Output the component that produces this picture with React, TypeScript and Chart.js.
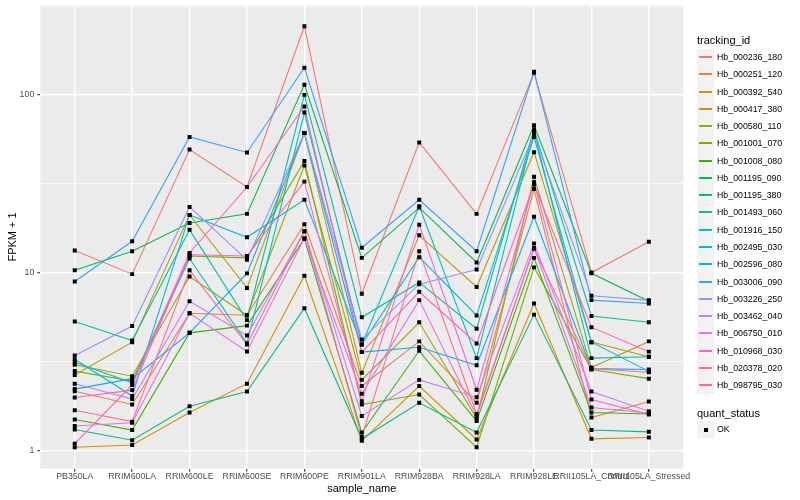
import React, { useEffect, useRef } from "react";
import { Chart, registerables } from "chart.js";

Chart.register(...registerables);

const FONT = "'Liberation Sans', Arial, Helvetica, sans-serif";

const categories = [
  "PB350LA", "RRIM600LA", "RRIM600LE", "RRIM600SE", "RRIM600PE", "RRIM901LA",
  "RRIM928BA", "RRIM928LA", "RRIM928LE", "RRII105LA_Control", "RRII105LA_Stressed",
];

const trackingIds = [
  "Hb_000236_180", "Hb_000251_120", "Hb_000392_540", "Hb_000417_380", "Hb_000580_110",
  "Hb_001001_070", "Hb_001008_080", "Hb_001195_090", "Hb_001195_380", "Hb_001493_060",
  "Hb_001916_150", "Hb_002495_030", "Hb_002596_080", "Hb_003006_090", "Hb_003226_250",
  "Hb_003462_040", "Hb_006750_010", "Hb_010968_030", "Hb_020378_020", "Hb_098795_030",
];

const colors = [
  "#F8766D", "#EA8331", "#D89000", "#C09B00", "#A3A500", "#7CAE00", "#39B600", "#00BB4E",
  "#00BF7D", "#00C1A3", "#00BFC4", "#00BAE0", "#00B0F6", "#35A2FF", "#9590FF", "#C77CFF",
  "#E76BF3", "#FA62DB", "#FF62BC", "#FF6C91",
];

// FPKM + 1 per tracking id, in category order
const s000236_180 = [13.3, 9.8, 49.3, 30.3, 243, 7.6, 54, 21.4, 133, 10, 14.9];
const s000251_120 = [2.15, 1.81, 5.9, 5.75, 18.7, 2.3, 4.1, 1.85, 29.5, 1.53, 1.88];
const s000392_540 = [1.04, 1.07, 1.63, 2.37, 9.6, 1.13, 2.3, 1.15, 6.7, 1.16, 1.18];
const s000417_380 = [2.65, 4.06, 21.1, 8.2, 61, 2.73, 16.2, 8.3, 47.6, 4.06, 3.36];
const s000580_110 = [3.03, 2.61, 9.5, 5.75, 40, 2.49, 5.25, 1.51, 34.6, 2.92, 4.1];
const s001001_070 = [2.79, 2.45, 12.4, 12.1, 42.5, 1.81, 2.06, 1.04, 10.7, 2.85, 2.53];
const s001008_080 = [1.49, 1.3, 4.58, 5.03, 15.5, 1.26, 3.63, 1.46, 12.1, 1.63, 1.6];
const s001195_090 = [10.3, 13.2, 19, 21.4, 114, 12.1, 23.2, 11.4, 67.5, 9.9, 6.9];
const s001195_380 = [1.31, 1.14, 1.77, 2.14, 6.3, 1.16, 1.85, 1.26, 5.8, 1.3, 1.27];
const s001493_060 = [5.3, 4.15, 17.4, 5.4, 100, 5.6, 8.8, 4.83, 64, 5.7, 5.25];
const s001916_150 = [3.13, 2.4, 12.0, 4.0, 79.5, 3.94, 23.6, 3.3, 62, 3.3, 3.36];
const s002495_030 = [3.25, 2.02, 21.1, 15.8, 25.7, 3.94, 12.2, 5.74, 58, 4.06, 2.78];
const s002596_080 = [2.21, 2.53, 4.58, 9.9, 61, 3.57, 3.8, 3.01, 20.6, 2.88, 2.85];
const s003006_090 = [8.9, 15, 58, 47.4, 142, 13.8, 25.7, 13.2, 135, 7.0, 6.7];
const s003226_250 = [3.42, 5.0, 23.4, 11.8, 61, 4.2, 8.6, 10.4, 60, 7.4, 7.0];
const s003462_040 = [2.37, 1.94, 6.9, 4.42, 17.1, 1.56, 2.49, 1.99, 14.6, 2.14, 1.66];
const s006750_010 = [1.37, 1.43, 5.9, 3.6, 15.6, 2.08, 7.0, 1.56, 13.8, 1.74, 1.62];
const s010968_030 = [1.98, 2.18, 12.6, 12.4, 32.5, 1.89, 18.6, 2.19, 32.2, 1.93, 1.59];
const s020378_020 = [1.09, 2.33, 12.9, 30.3, 86, 3.57, 7.8, 3.99, 31.3, 4.93, 3.59];
const s098795_030 = [1.68, 1.45, 10.3, 3.94, 17.1, 1.19, 13.2, 1.6, 13.6, 2.88, 2.75];

const seriesValues = [
  s000236_180, s000251_120, s000392_540, s000417_380, s000580_110,
  s001001_070, s001008_080, s001195_090, s001195_380, s001493_060,
  s001916_150, s002495_030, s002596_080, s003006_090, s003226_250,
  s003462_040, s006750_010, s010968_030, s020378_020, s098795_030,
];

const yMajor = [1, 10, 100];
const yMinor = [Math.sqrt(10), Math.sqrt(1000), Math.sqrt(100000)];
const yMin = Math.pow(10, -0.1036);
const yMax = Math.pow(10, 2.5046);

const panelBg = {
  id: "panelBg",
  beforeDraw(chart: any) {
    const { ctx, chartArea } = chart;
    ctx.save();
    ctx.fillStyle = "#EBEBEB";
    ctx.fillRect(chartArea.left, chartArea.top, chartArea.right - chartArea.left, chartArea.bottom - chartArea.top);
    ctx.restore();
  },
};

const isMajor = (v: number) => yMajor.some((m) => Math.abs(m - v) < 1e-9);

function App() {
  const ref = useRef<HTMLCanvasElement | null>(null);

  useEffect(() => {
    if (!ref.current) return;
    const lineSets = seriesValues.map((vals, i) => ({
      label: trackingIds[i],
      data: vals.map((v, ci) => ({ x: ci, y: v })),
      borderColor: colors[i],
      backgroundColor: colors[i],
      borderWidth: 1.1,
      pointRadius: 0,
      tension: 0,
      order: 100 - i,
    }));
    const pointSet = {
      label: "OK",
      data: seriesValues.flatMap((vals) => vals.map((v, ci) => ({ x: ci, y: v }))),
      showLine: false,
      pointStyle: "rect",
      pointRadius: 2.8,
      pointBorderWidth: 0,
      pointBackgroundColor: "#000000",
      pointBorderColor: "#000000",
      order: 0,
    };
    const chart = new Chart(ref.current, {
      type: "line",
      data: { datasets: [...lineSets, pointSet] as any },
      plugins: [panelBg],
      options: {
        animation: false,
        responsive: false,
        events: [],
        layout: { padding: { top: 5.2, right: 116.7, left: 0, bottom: 0 } },
        plugins: { legend: { display: false }, tooltip: { enabled: false } },
        scales: {
          x: {
            type: "linear",
            min: -0.6,
            max: 10.6,
            afterBuildTicks: (s: any) => {
              s.ticks = categories.map((_, i) => ({ value: i }));
            },
            afterFit: (s: any) => {
              s.height = 31.3;
              s.paddingLeft = 0;
              s.paddingRight = 0;
              s.paddingTop = 0;
              s.paddingBottom = 0;
            },
            border: { display: false },
            grid: { color: "#FFFFFF", lineWidth: 1.4, tickColor: "#333333", tickLength: 3, tickWidth: 1.1 },
            ticks: {
              autoSkip: false,
              maxRotation: 0,
              minRotation: 0,
              padding: 0,
              color: "#4D4D4D",
              font: { family: FONT, size: 8.8, lineHeight: 1 },
              callback: (v: any) => categories[Math.round(Number(v))] ?? "",
            },
            title: {
              display: true,
              text: "sample_name",
              color: "#000000",
              font: { family: FONT, size: 11 },
              padding: { top: 0, bottom: 4.9 },
            },
          },
          y: {
            type: "logarithmic",
            min: yMin,
            max: yMax,
            afterBuildTicks: (s: any) => {
              s.ticks = [...yMajor, ...yMinor].sort((a, b) => a - b).map((v) => ({ value: v, major: isMajor(v) }));
            },
            afterFit: (s: any) => {
              s.width = 40.3;
              s.paddingLeft = 0;
              s.paddingRight = 0;
              s.paddingTop = 0;
              s.paddingBottom = 0;
            },
            border: { display: false },
            grid: {
              color: "#FFFFFF",
              lineWidth: (c: any) => (isMajor(c.tick.value) ? 1.4 : 0.7),
              tickColor: (c: any) => (isMajor(c.tick.value) ? "#333333" : "rgba(0,0,0,0)"),
              tickLength: 3,
              tickWidth: 1.1,
            },
            ticks: {
              autoSkip: false,
              padding: 3,
              color: "#4D4D4D",
              font: { family: FONT, size: 8.8 },
              callback: (v: any) => (isMajor(Number(v)) ? String(Number(v)) : ""),
            },
            title: {
              display: true,
              text: "FPKM + 1",
              color: "#000000",
              font: { family: FONT, size: 11 },
              padding: { top: 6.4, bottom: 0 },
            },
          },
        },
      } as any,
    });
    return () => chart.destroy();
  }, []);

  const rowH = 17.28;
  const rowTop = (i: number) => Math.round(48.66 + i * rowH);
  return (
    <div style={{ position: "fixed", left: 0, top: 0, width: 800, height: 500, background: "#FFFFFF", fontFamily: FONT }}>
      <canvas ref={ref} width={800} height={500} style={{ position: "absolute", left: 0, top: 0, width: 800, height: 500 }} />
      <div style={{ position: "absolute", left: 697, top: 33, fontSize: 11, lineHeight: "14px", color: "#000" }}>tracking_id</div>
      {trackingIds.map((id, i) => {
        const top = rowTop(i);
        const h = rowTop(i + 1) - top;
        return (
          <div key={id} style={{ position: "absolute", left: 697, top, height: h, width: 100 }}>
            <div style={{ position: "absolute", left: 0, top: 0, width: 17, height: h, background: "#F2F2F2" }}>
              <div style={{ position: "absolute", left: 2, width: 13, top: Math.floor(h / 2) - 1, height: 1.5, background: colors[i] }} />
            </div>
            <div style={{ position: "absolute", left: 20, top: 0, lineHeight: h + "px", fontSize: 8.8, color: "#000", whiteSpace: "nowrap" }}>{id}</div>
          </div>
        );
      })}
      <div style={{ position: "absolute", left: 697, top: 405.5, fontSize: 11, lineHeight: "14px", color: "#000" }}>quant_status</div>
      <div style={{ position: "absolute", left: 697, top: 421, height: 17, width: 100 }}>
        <div style={{ position: "absolute", left: 0, top: 0, width: 17, height: 17, background: "#F2F2F2" }}>
          <div style={{ position: "absolute", left: 7, top: 7, width: 4, height: 4, background: "#000" }} />
        </div>
        <div style={{ position: "absolute", left: 20, top: 0, lineHeight: "17px", fontSize: 8.8, color: "#000" }}>OK</div>
      </div>
    </div>
  );
}

export default App;
